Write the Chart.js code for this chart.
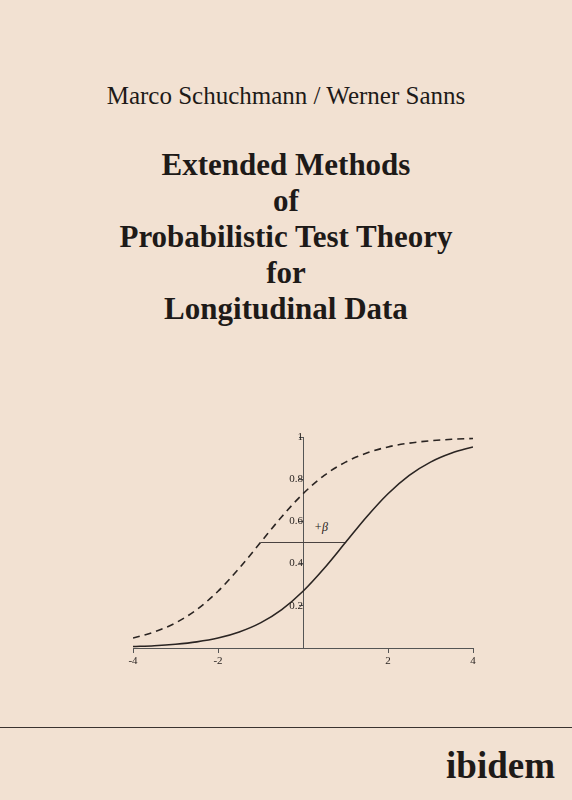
<!DOCTYPE html>
<html><head><meta charset="utf-8">
<script src="https://cdn.jsdelivr.net/npm/chart.js@4"></script>
<style>
body{margin:0;width:572px;height:800px;background:#f2e1d2;position:relative;overflow:hidden;font-family:"Liberation Serif","DejaVu Serif",serif;color:#1e1a18}
.t{position:absolute;left:0;width:572px;text-align:center}
#c{position:absolute;left:123px;top:417px}
</style></head><body>
<div class="t" style="top:82px;font-size:25px">Marco Schuchmann / Werner Sanns</div>
<div class="t" style="top:147px;font-size:31px;font-weight:bold;line-height:36px">Extended Methods<br>of<br>Probabilistic Test Theory<br>for<br>Longitudinal Data</div>
<div style="position:absolute;left:314px;top:520px;font-size:12px;font-style:italic">+β</div>
<div style="position:absolute;left:0;top:727px;width:572px;height:1px;background:#3a3230"></div>
<div style="position:absolute;right:17px;top:744px;font-size:37px;font-weight:bold">ibidem</div>
<canvas id="c" width="360" height="263"></canvas>
<script>
const xs=[-4,-3.5,-3,-2.5,-2,-1.5,-1,-0.5,0,0.5,1,1.5,2,2.5,3,3.5,4];
const solid=[0.007,0.011,0.018,0.029,0.047,0.076,0.119,0.182,0.269,0.378,0.5,0.622,0.731,0.818,0.881,0.924,0.953];
const dashed=[0.047,0.076,0.119,0.182,0.269,0.378,0.5,0.622,0.731,0.818,0.881,0.924,0.953,0.971,0.982,0.989,0.993];
const betaLine=[[-1,0.5],[1,0.5]];
const xTicks=[-4,-2,2,4];
const yTicks=[0.2,0.4,0.6,0.8,1];
const pts=a=>xs.map((x,i)=>({x,y:a[i]}));
const ink='#2a2422';
new Chart(document.getElementById('c'),{
type:'line',
data:{datasets:[
{data:pts(solid),borderColor:ink,borderWidth:1.6,pointRadius:0,cubicInterpolationMode:'monotone'},
{data:pts(dashed),borderColor:ink,borderWidth:1.6,borderDash:[7,5],pointRadius:0,cubicInterpolationMode:'monotone'},
{data:betaLine.map(p=>({x:p[0],y:p[1]})),borderColor:'#4a4240',borderWidth:1,pointRadius:0}
]},
options:{responsive:false,animation:false,
layout:{padding:{left:10,right:10,top:20,bottom:32}},
plugins:{legend:{display:false},tooltip:{enabled:false}},
scales:{
x:{type:'linear',min:-4,max:4,position:{y:0},
 afterBuildTicks:s=>{s.ticks=xTicks.map(v=>({value:v}));},
 grid:{display:true,drawOnChartArea:false,tickLength:4,color:'#555'},
 border:{color:'#555',width:1},
 ticks:{color:ink,font:{family:'Liberation Serif',size:11},padding:3}},
y:{type:'linear',min:0,max:1,position:{x:0},
 afterBuildTicks:s=>{s.ticks=yTicks.map(v=>({value:v}));},
 grid:{display:true,drawOnChartArea:false,tickLength:4,color:'#555'},
 border:{color:'#555',width:1},
 ticks:{color:ink,font:{family:'Liberation Serif',size:11},padding:3,callback:v=>String(v)}}
}}});
</script></body></html>
